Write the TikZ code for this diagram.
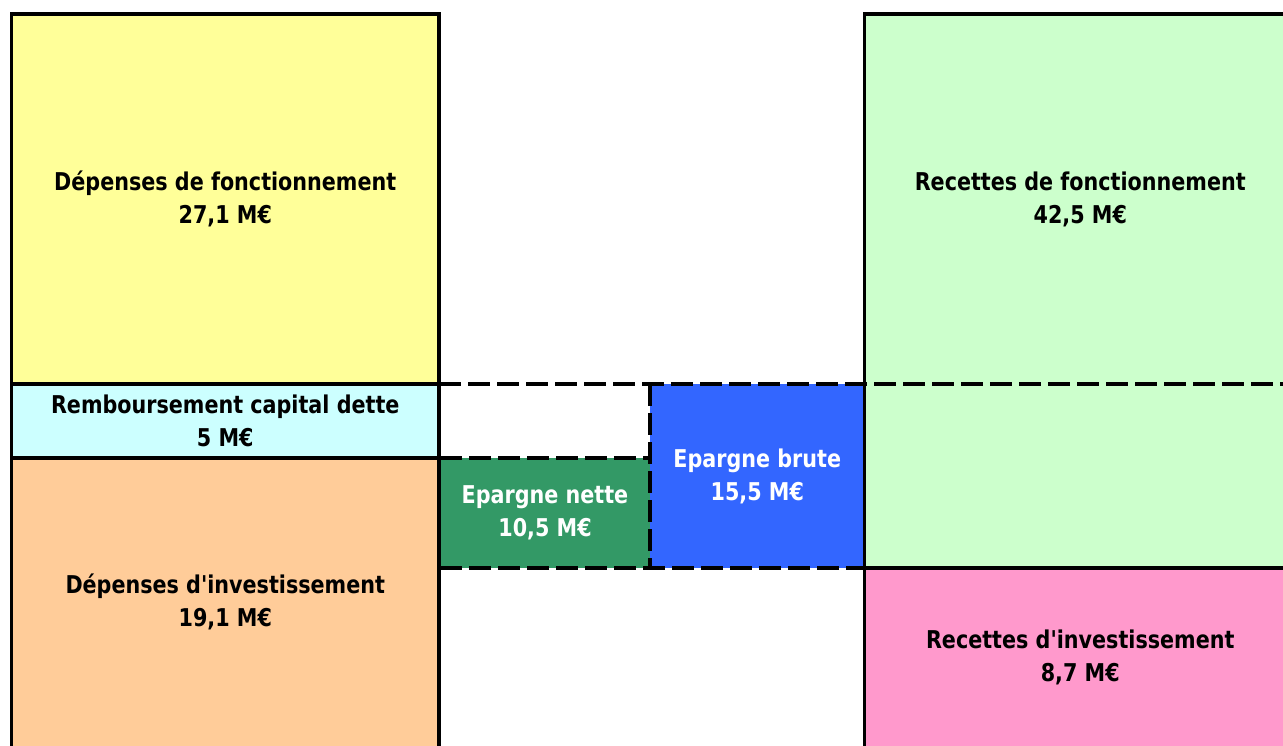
\documentclass[tikz,border=0pt]{standalone}
\usepackage{fontspec}
\newfontfamily\lbl{DejaVu Sans}[FakeStretch=0.845]
\definecolor{fonctD}{HTML}{FFFF99}
\definecolor{detteD}{HTML}{CCFFFF}
\definecolor{investD}{HTML}{FFCC99}
\definecolor{fonctR}{HTML}{CCFFCC}
\definecolor{investR}{HTML}{FF99CC}
\definecolor{nette}{HTML}{339966}
\definecolor{brute}{HTML}{3366FF}
\begin{document}
\begin{tikzpicture}[x=1pt,y=-1pt,
  block/.style={draw=none, inner sep=0pt, outer sep=0pt, align=center,
    font=\lbl\bfseries\fontsize{24.5}{33}\selectfont, text=black},
  edge/.style={line width=3.4pt, black, line join=miter},
  cut/.style={line width=3.6pt, black, dash pattern=on 22pt off 7pt}]
\useasboundingbox (0,0) rectangle (1283,746);
\clip (0,0) rectangle (1283,746);

% expenses column
\node[block, fill=fonctD, minimum width=427.5pt, minimum height=370pt]
  (dfonc) at (225.25,199) {Dépenses de fonctionnement\\27,1 M€};
\node[block, fill=detteD, minimum width=427.5pt, minimum height=74pt]
  (remb) at (225.25,421) {Remboursement capital dette\\5 M€};
\node[block, fill=investD, minimum width=427.5pt, minimum height=288pt]
  (dinv) at (225.25,602) {Dépenses d'investissement\\19,1 M€};

% revenue column
\node[block, fill=fonctR, minimum width=431.5pt, minimum height=370pt]
  (rfonc) at (1080.25,199) {Recettes de fonctionnement\\42,5 M€};
\node[block, fill=fonctR, minimum width=431.5pt, minimum height=184pt]
  (rfoncb) at (1080.25,476) {};
\node[block, fill=investR, minimum width=431.5pt, minimum height=178pt]
  (rinv) at (1080.25,657) {Recettes d'investissement\\8,7 M€};

% savings
\node[block, fill=nette, text=white, minimum width=210pt, minimum height=110pt]
  (enette) at (545,513) {Epargne nette\\10,5 M€};
\node[block, fill=brute, text=white, minimum width=214.5pt, minimum height=184pt]
  (ebrute) at (757.25,476) {Epargne brute\\15,5 M€};

% dashed boundaries
\draw[cut] (dfonc.south east) -- (rfonc.south east);
\draw[cut] (enette.north west) -- (enette.north east);
\draw[cut] (enette.south west) -- (ebrute.south east);
\draw[cut] (ebrute.north west) -- (ebrute.south west);

% solid outlines
\draw[edge] (dinv.south west) -- (dfonc.north west) -- (dfonc.north east) -- (dinv.south east);
\draw[edge] (dfonc.south west) -- (dfonc.south east);
\draw[edge] (remb.south west) -- (remb.south east);
\draw[edge] (rinv.south west) -- (rfonc.north west) -- (rfonc.north east);
\draw[edge] (rinv.north west) -- (rinv.north east);
\end{tikzpicture}
\end{document}
